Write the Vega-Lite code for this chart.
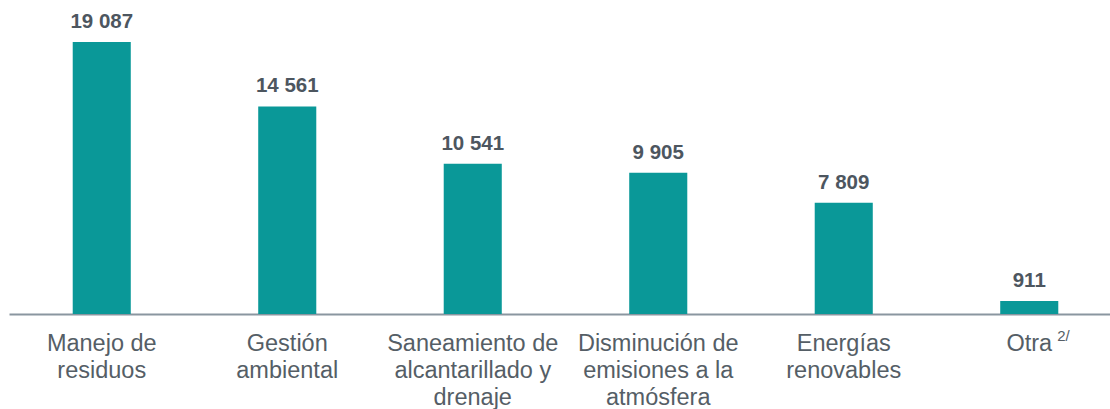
{
  "$schema": "https://vega.github.io/schema/vega-lite/v6.json",
  "width": 1113,
  "height": 314,
  "padding": {"left": 9, "top": 0, "right": 0, "bottom": 0},
  "autosize": {"type": "pad"},
  "background": "white",
  "config": {"view": {"stroke": null}, "font": "Liberation Sans"},
  "data": {"values": [
    {"cat": "Manejo de|residuos", "value": 19087, "label": "19 087", "sup": ""},
    {"cat": "Gestión|ambiental", "value": 14561, "label": "14 561", "sup": ""},
    {"cat": "Saneamiento de|alcantarillado y|drenaje", "value": 10541, "label": "10 541", "sup": ""},
    {"cat": "Disminución de|emisiones a la|atmósfera", "value": 9905, "label": "9 905", "sup": ""},
    {"cat": "Energías|renovables", "value": 7809, "label": "7 809", "sup": ""},
    {"cat": "Otra", "value": 911, "label": "911", "sup": "2/"}
  ]},
  "encoding": {
    "x": {
      "field": "cat", "type": "nominal", "sort": null,
      "scale": {"paddingInner": 0.687, "paddingOuter": 0.3435},
      "axis": {
        "title": null, "labelAngle": 0, "ticks": false, "domainColor": "#8a96a0", "domainWidth": 2,
        "labelExpr": "split(datum.value, '|')", "labelFont": "Liberation Sans", "labelFontSize": 23.5,
        "labelColor": "#555e66", "labelLineHeight": 27, "labelPadding": 17, "labelLimit": 300
      }
    },
    "y": {"field": "value", "type": "quantitative", "scale": {"domain": [0, 22034]}, "axis": null}
  },
  "layer": [
    {"mark": {"type": "bar", "color": "#0a9898"}},
    {"mark": {"type": "text", "baseline": "bottom", "dy": -10, "fontWeight": "bold", "fontSize": 20.5, "color": "#4d565f", "font": "Liberation Sans"},
     "encoding": {"text": {"field": "label"}}},
    {"mark": {"type": "text", "align": "left", "baseline": "top", "dx": 28, "dy": 15, "fontSize": 15, "color": "#555e66", "font": "Liberation Sans"},
     "encoding": {"y": {"datum": 0}, "text": {"field": "sup"}}}
  ]
}
